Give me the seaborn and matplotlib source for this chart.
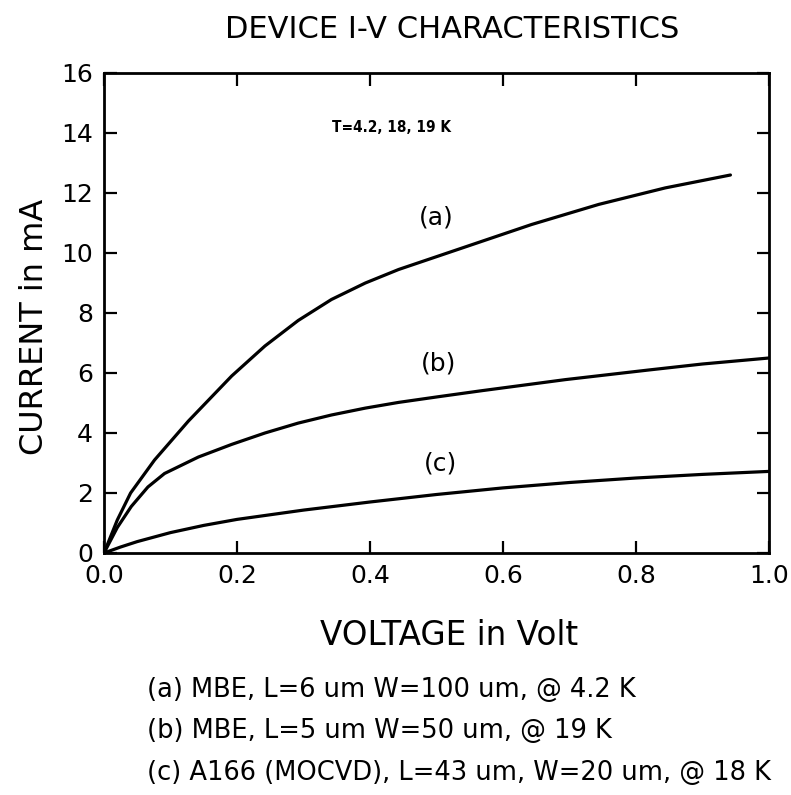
import numpy as np
import pandas as pd
import matplotlib
matplotlib.use("Agg")
import matplotlib.pyplot as plt
import seaborn as sns

# ---- data ----
voltage_a = [0.0, 0.02, 0.04, 0.076, 0.127, 0.192, 0.242, 0.292, 0.342, 0.393, 0.443, 0.503, 0.543, 0.643, 0.744, 0.844, 0.942]
current_a = [0.0, 1.1, 2.0, 3.1, 4.4, 5.9, 6.9, 7.75, 8.45, 9.0, 9.45, 9.9, 10.2, 10.95, 11.62, 12.17, 12.6]

voltage_b = [0.0, 0.02, 0.041, 0.066, 0.091, 0.142, 0.192, 0.242, 0.292, 0.342, 0.393, 0.443, 0.503, 0.568, 0.694, 0.819, 0.9, 1.0]
current_b = [0.0, 0.85, 1.55, 2.2, 2.65, 3.2, 3.62, 4.0, 4.33, 4.6, 4.83, 5.02, 5.21, 5.41, 5.78, 6.1, 6.3, 6.5]

voltage_c = [0.0, 0.025, 0.05, 0.1, 0.15, 0.2, 0.3, 0.4, 0.5, 0.6, 0.7, 0.8, 0.9, 1.0]
current_c = [0.0, 0.2, 0.38, 0.68, 0.92, 1.12, 1.43, 1.7, 1.95, 2.17, 2.35, 2.5, 2.62, 2.72]

x_ticks = [0.0, 0.2, 0.4, 0.6, 0.8, 1.0]
y_ticks = [0, 2, 4, 6, 8, 10, 12, 14, 16]

curve_labels = ["(a)", "(b)", "(c)"]
notes = [
    "(a) MBE, L=6 um W=100 um, @ 4.2 K",
    "(b) MBE, L=5 um W=50 um, @ 19 K",
    "(c) A166 (MOCVD), L=43 um, W=20 um, @ 18 K",
]
title = "DEVICE I-V CHARACTERISTICS"
temp_label = "T=4.2, 18, 19 K"

# ---- figure ----
sns.set_theme(style="ticks")
plt.rcParams["font.family"] = ["DejaVu Sans"]
plt.rcParams["text.color"] = "black"
plt.rcParams["axes.labelcolor"] = "black"

fig = plt.figure(figsize=(7.91, 7.95), dpi=100)
ax = fig.add_axes([104 / 791, 1 - 553 / 795, 665 / 791, 480 / 795])

df = pd.concat([
    pd.DataFrame({"V": voltage_a, "I": current_a, "curve": "a"}),
    pd.DataFrame({"V": voltage_b, "I": current_b, "curve": "b"}),
    pd.DataFrame({"V": voltage_c, "I": current_c, "curve": "c"}),
])
sns.lineplot(data=df, x="V", y="I", hue="curve", palette=["black"] * 3,
             linewidth=2.3, ax=ax, legend=False, sort=False, estimator=None)
for ln in ax.get_lines():
    ln.set_solid_joinstyle("round")
    ln.set_solid_capstyle("round")

ax.set_xlim(0, 1.0)
ax.set_ylim(0, 16)
ax.set_xticks(x_ticks)
ax.set_xticklabels([f"{t:.1f}" for t in x_ticks])
ax.set_yticks(y_ticks)
ax.set_yticklabels([str(t) for t in y_ticks])
ax.tick_params(direction="in", length=9, width=1.6, top=True, right=True,
               labelsize=18, color="black", labelcolor="black")
ax.tick_params(axis="x", pad=8)
ax.tick_params(axis="y", pad=8)
for s in ax.spines.values():
    s.set_linewidth(2.0)
    s.set_color("black")

ax.set_xlabel("VOLTAGE in Volt", fontsize=23.5, labelpad=22, color="black")
ax.set_ylabel("CURRENT in mA", fontsize=23, labelpad=8, color="black")
ax.xaxis.label.set_x((449 - 104) / 665)
ax.yaxis.label.set_y(0.471)

ax.text(0.432, 14.2, temp_label, fontsize=11, fontweight="bold",
        fontstretch="condensed", ha="center", va="center", color="black")
for lab, (xv, yv) in zip(curve_labels, [(0.5, 11.2), (0.503, 6.3), (0.506, 2.97)]):
    ax.text(xv, yv, lab, fontsize=18, ha="center", va="center", color="black")

fig.text(452 / 791, 1 - 30 / 795, title, fontsize=22, ha="center", va="center",
         color="black")
for txt, yp in zip(notes, [690, 731, 773]):
    fig.text(147 / 791, 1 - yp / 795, txt, fontsize=18.5, ha="left", va="center",
             color="black")

fig.savefig("out.png", dpi=100)
